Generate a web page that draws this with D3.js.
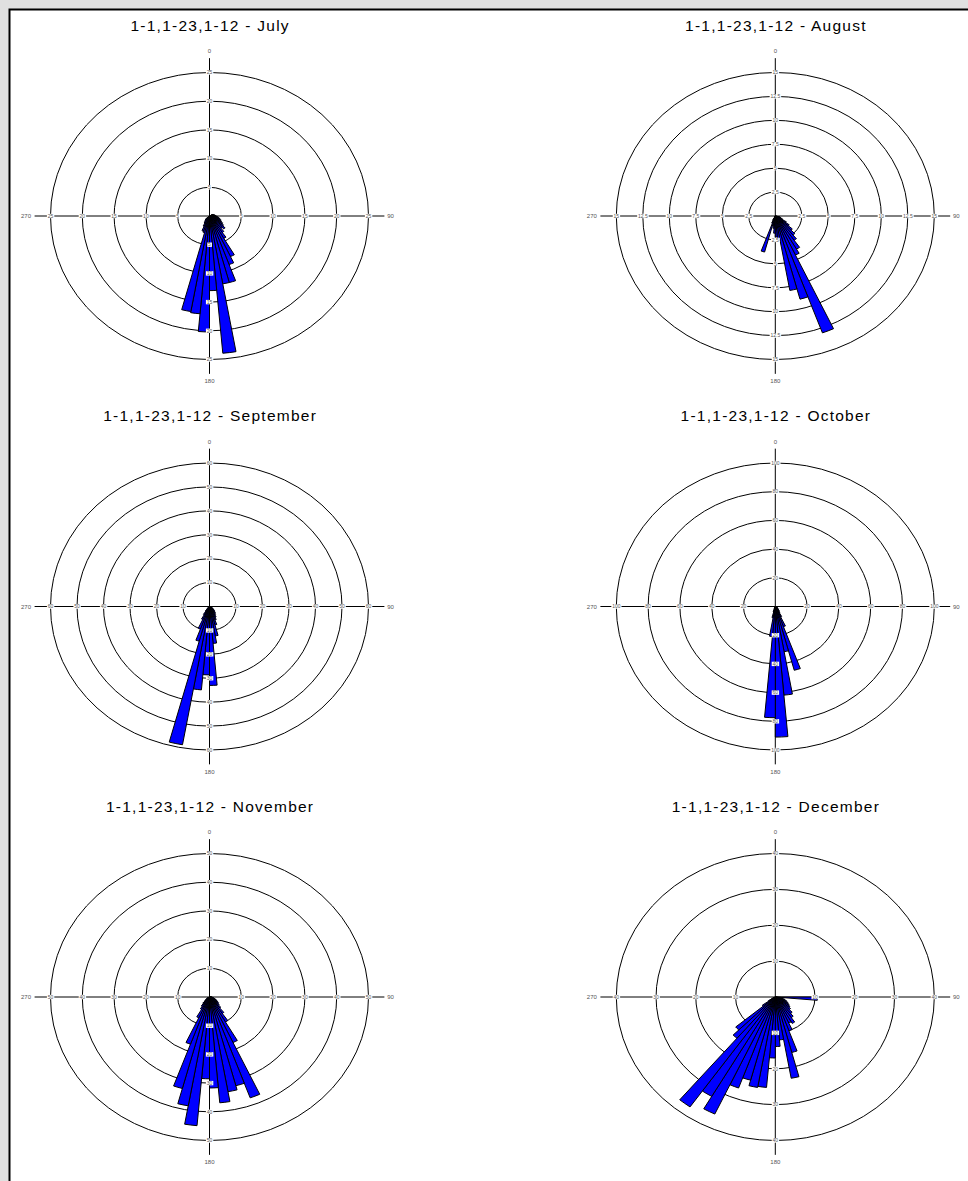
<!DOCTYPE html>
<html><head><meta charset="utf-8">
<script src="https://cdn.jsdelivr.net/npm/d3@7/dist/d3.min.js"></script>
<style>
html,body{margin:0;padding:0;background:#e0e0e0;}
svg{display:block;}
</style></head><body>
<svg id="c" width="968" height="1181"></svg>
<script>
// ---- data ----
const titlePrefix = "1-1,1-23,1-12 - ";
const months = ["July", "August", "September", "October", "November", "December"];
const ringMax = [25, 15, 60, 100, 50, 40];
const ringStep = [5, 2.5, 10, 20, 10, 10];
const binWidth = 5;

const julyDirs = [60,65,70,75,80,85,90,95,100,105,110,115,120,125,130,135,140,145,150,155,160,165,170,175,180,185,190,195,200,205,210,215,220,225];
const julyVals = [0.5,0.6,0.7,0.8,0.9,1.0,1.1,1.3,1.5,1.7,1.9,2.1,2.4,2.7,3.2,2.8,3.5,4.5,7.8,9,12,12,24,13,20.2,17.1,16.9,3,2.8,2,1.5,1.2,1,0.8];

const augDirs = [100,105,110,115,120,125,130,135,140,145,150,155,160,165,170,175,180,185,190,195,200,205];
const augVals = [0.4,0.5,0.6,0.8,1.2,1.6,2.1,2.6,3.1,4.0,4.5,13,9,7.9,2.6,2.2,1.8,1.3,1.0,3.9,0.8,0.5];

const sepDirs = [110,115,120,125,130,135,140,145,150,155,160,165,170,175,180,185,190,195,200,205,210,215,220,225];
const sepVals = [0.8,1,1.5,2,2.5,3,3.5,4,5,6,8,12.5,15.5,33,28.6,35,58.7,15,10,6,4,2.5,1.5,1];

const octDirs = [110,115,120,125,130,135,140,145,150,155,160,165,170,175,180,185,190,195,200,205];
const octVals = [0.8,1,1.5,2,2.5,3,4,5,8,15,46,32,62,91,77.5,21,8,4,2,1];

const novDirs = [90,95,100,105,110,115,120,125,130,135,140,145,150,155,160,165,170,175,180,185,190,195,200,205,210,215,220,225,230,235,240];
const novVals = [0.8,1,1.2,1.5,2,2.5,3,3.5,4,5,7,10,17.5,37.4,32,33.5,37,31.7,28.5,45,38.5,33,17.5,8,5,4,3,2,1.5,1,0.8];

const decDirs = [90,95,100,105,110,115,120,125,130,135,140,145,150,155,160,165,170,175,180,185,190,195,200,205,210,215,220,225,230,235,240];
const decVals = [10.6,1.5,2,2.5,3,3.5,4,4.5,5,6,7,8.5,8,10,16,23,12,13.8,17,25.3,25.6,24,27,36,32,37.4,15,13,4,2,1];

const dirSets = [julyDirs, augDirs, sepDirs, octDirs, novDirs, decDirs];
const valSets = [julyVals, augVals, sepVals, octVals, novVals, decVals];
const compassLabels = ["0", "90", "180", "270"];

// ---- layout ----
const svg = d3.select("#c");
svg.append("rect").attr("x", 9.5).attr("y", 9.5).attr("width", 980).attr("height", 1190)
  .attr("fill", "#fff").attr("stroke", "#000").attr("stroke-width", 2);

const colX = [209.5, 775.3];
const rowY = [216, 606.5, 997];
const RX = 159, RY = 143.5, R = 100;
const font = "'Liberation Sans', Arial, sans-serif";
const titleLS = 1.25;

months.forEach((m, i) => {
  const cx = colX[i % 2], cy = rowY[Math.floor(i / 2)];
  const max = ringMax[i], step = ringStep[i];
  const rScale = d3.scaleLinear().domain([0, max]).range([0, R]);
  const ticks = d3.range(step, max + step / 2, step);
  const g = svg.append("g").attr("transform", `translate(${cx},${cy})`);

  // title
  svg.append("text").attr("x", cx + titleLS / 2).attr("y", cy - 185.3)
    .attr("text-anchor", "middle").attr("font-family", font)
    .attr("font-size", 15.5).attr("letter-spacing", titleLS).attr("fill", "#000")
    .text(titlePrefix + m);

  // rings
  g.selectAll("ellipse.ring").data(ticks).join("ellipse").attr("class", "ring")
    .attr("cx", 0).attr("cy", 0)
    .attr("rx", d => rScale(d) / R * RX).attr("ry", d => rScale(d) / R * RY)
    .attr("fill", "none").attr("stroke", "#000").attr("stroke-width", 1);

  // axes
  g.append("line").attr("x1", 0).attr("x2", 0).attr("y1", -RY * 1.1).attr("y2", RY * 1.1)
    .attr("stroke", "#000").attr("stroke-width", 1);
  g.append("line").attr("y1", 0).attr("y2", 0).attr("x1", -RX * 1.1).attr("x2", RX * 1.1)
    .attr("stroke", "#000").attr("stroke-width", 1);

  // bars
  const data = dirSets[i].map((d, k) => ({dir: d, v: valSets[i][k]}));
  const arc = d3.arc().innerRadius(0)
    .outerRadius(d => rScale(d.v))
    .startAngle(d => d.dir * Math.PI / 180)
    .endAngle(d => (d.dir + binWidth) * Math.PI / 180);
  const bg = g.append("g").attr("transform", `scale(${RX / R},${RY / R})`);
  bg.selectAll("path").data(data).join("path")
    .attr("d", arc).attr("fill", "#0000ff").attr("stroke", "#000")
    .attr("stroke-width", 1).attr("vector-effect", "non-scaling-stroke")
    .attr("stroke-linejoin", "miter");

  // ring labels
  const fmt = d => (Math.round(d * 10) / 10).toString();
  const pos = [];
  ticks.forEach(t => {
    const f = rScale(t) / R;
    pos.push({x: 0, y: -RY * f, t}, {x: 0, y: RY * f, t}, {x: -RX * f, y: 0, t}, {x: RX * f, y: 0, t});
  });
  pos.forEach(p => {
    const lg = g.append("g").attr("transform", `translate(${p.x},${p.y})`);
    const rect = lg.append("rect").attr("fill", "#fff");
    const tx = lg.append("text").attr("text-anchor", "middle").attr("dy", "0.35em")
      .attr("font-family", font).attr("font-size", 5).attr("fill", "#555").text(fmt(p.t));
    const bb = tx.node().getBBox();
    rect.attr("x", bb.x - 0.8).attr("y", -2.2).attr("width", bb.width + 1.6).attr("height", 4.4);
  });

  // compass labels
  const cp = [[0, -165], [181, 0], [0, 165], [-183.5, 0]];
  cp.forEach((c, k) => {
    g.append("text").attr("x", c[0]).attr("y", c[1]).attr("dy", "0.35em")
      .attr("text-anchor", "middle").attr("font-family", font).attr("font-size", 6)
      .attr("fill", "#555").text(compassLabels[k]);
  });
});
</script>
</body></html>
